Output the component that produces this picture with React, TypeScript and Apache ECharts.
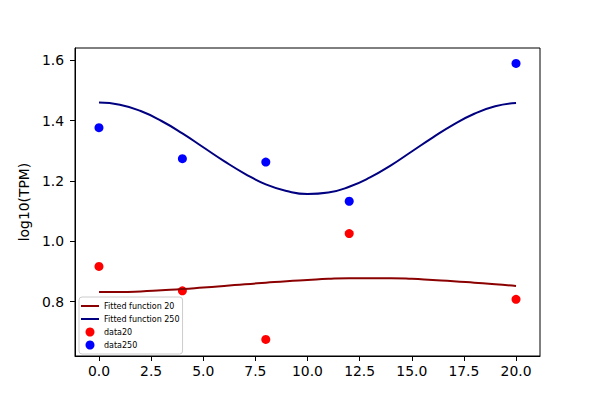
import { useEffect, useRef } from 'react';
import * as echarts from 'echarts';

// measured sample points
const sampleTimes = [0, 4, 8, 12, 20];
const data20 = [0.917, 0.836, 0.675, 1.026, 0.808];
const data250 = [1.377, 1.274, 1.263, 1.133, 1.59];

// fitted curves at each whole x
const fitX = [0, 1, 2, 3, 4, 5, 6, 7, 8, 9, 10, 11, 12, 13, 14, 15, 16, 17, 18, 19, 20];
const fit20 = [
  0.832, 0.832, 0.834, 0.838, 0.842, 0.847, 0.852, 0.858, 0.863, 0.868, 0.872,
  0.876, 0.878, 0.878, 0.878, 0.876, 0.872, 0.868, 0.863, 0.858, 0.852
];
const fit250 = [
  1.46, 1.453, 1.432, 1.399, 1.358, 1.312, 1.266, 1.224, 1.189, 1.167, 1.157,
  1.162, 1.181, 1.212, 1.252, 1.298, 1.344, 1.387, 1.423, 1.448, 1.459
];

const xTicks = [0, 2.5, 5, 7.5, 10, 12.5, 15, 17.5, 20];
const yTicks = [0.8, 1.0, 1.2, 1.4, 1.6];

const font = 'DejaVu Sans';
const lineIcon = 'path://M0,0h18v2h-18z';

export default function App() {
  const ref = useRef<HTMLDivElement | null>(null);

  useEffect(() => {
    if (!ref.current) {
      return;
    }
    const chart = echarts.init(ref.current, undefined, { renderer: 'svg' });
    const pair = (xs: number[], ys: number[]) => xs.map((x, i) => [x, ys[i]]);
    chart.setOption({
      animation: false,
      textStyle: { fontFamily: font },
      grid: {
        left: 75,
        right: 60,
        top: 48,
        bottom: 44,
        show: true,
        borderColor: '#000',
        borderWidth: 1
      },
      xAxis: {
        type: 'value',
        min: -1.15,
        max: 21.15,
        splitLine: { show: false },
        axisLine: { show: true, onZero: false, lineStyle: { color: '#000', width: 1 } },
        axisTick: { show: true, length: 5, customValues: xTicks, lineStyle: { color: '#000' } },
        axisLabel: {
          customValues: xTicks,
          formatter: (v: number) => v.toFixed(1),
          color: '#000',
          fontSize: 13.9,
          fontFamily: font,
          margin: 8
        }
      },
      yAxis: {
        type: 'value',
        min: 0.62,
        max: 1.641,
        name: 'log10(TPM)',
        nameLocation: 'middle',
        nameGap: 34,
        nameTextStyle: { color: '#000', fontSize: 13.9, fontFamily: font },
        splitLine: { show: false },
        axisLine: { show: true, onZero: false, lineStyle: { color: '#000', width: 1 } },
        axisTick: { show: true, length: 5, customValues: yTicks, lineStyle: { color: '#000' } },
        axisLabel: {
          customValues: yTicks,
          formatter: (v: number) => v.toFixed(1),
          color: '#000',
          fontSize: 13.9,
          fontFamily: font,
          margin: 11
        }
      },
      legend: {
        orient: 'vertical',
        left: 79,
        top: 297,
        data: [
          { name: 'Fitted function 20', icon: lineIcon, itemStyle: { color: '#8b0000', borderWidth: 0 } },
          { name: 'Fitted function 250', icon: lineIcon, itemStyle: { color: '#000080', borderWidth: 0 } },
          { name: 'data20', icon: 'circle' },
          { name: 'data250', icon: 'circle' }
        ],
        itemWidth: 18,
        itemHeight: 9,
        itemGap: 3,
        padding: [4, 3, 4, 2],
        backgroundColor: 'rgba(255,255,255,0.8)',
        borderColor: '#cccccc',
        borderWidth: 1,
        borderRadius: 3,
        textStyle: { fontSize: 8, lineHeight: 10, color: '#000', fontFamily: font }
      },
      series: [
        {
          name: 'data20',
          type: 'scatter',
          data: pair(sampleTimes, data20),
          symbolSize: 9,
          itemStyle: { color: '#ff0000', opacity: 1 },
          z: 1
        },
        {
          name: 'data250',
          type: 'scatter',
          data: pair(sampleTimes, data250),
          symbolSize: 9,
          itemStyle: { color: '#0000ff', opacity: 1 },
          z: 1
        },
        {
          name: 'Fitted function 20',
          type: 'line',
          data: pair(fitX, fit20),
          smooth: 0.5,
          symbol: 'none',
          lineStyle: { color: '#8b0000', width: 2 },
          itemStyle: { color: '#8b0000' },
          z: 2
        },
        {
          name: 'Fitted function 250',
          type: 'line',
          data: pair(fitX, fit250),
          smooth: 0.5,
          symbol: 'none',
          lineStyle: { color: '#000080', width: 2 },
          itemStyle: { color: '#000080' },
          z: 2
        }
      ]
    });
    return () => {
      chart.dispose();
    };
  }, []);

  return (
    <div
      ref={ref}
      style={{ position: 'fixed', left: 0, top: 0, width: 600, height: 400, background: '#fff' }}
    />
  );
}
